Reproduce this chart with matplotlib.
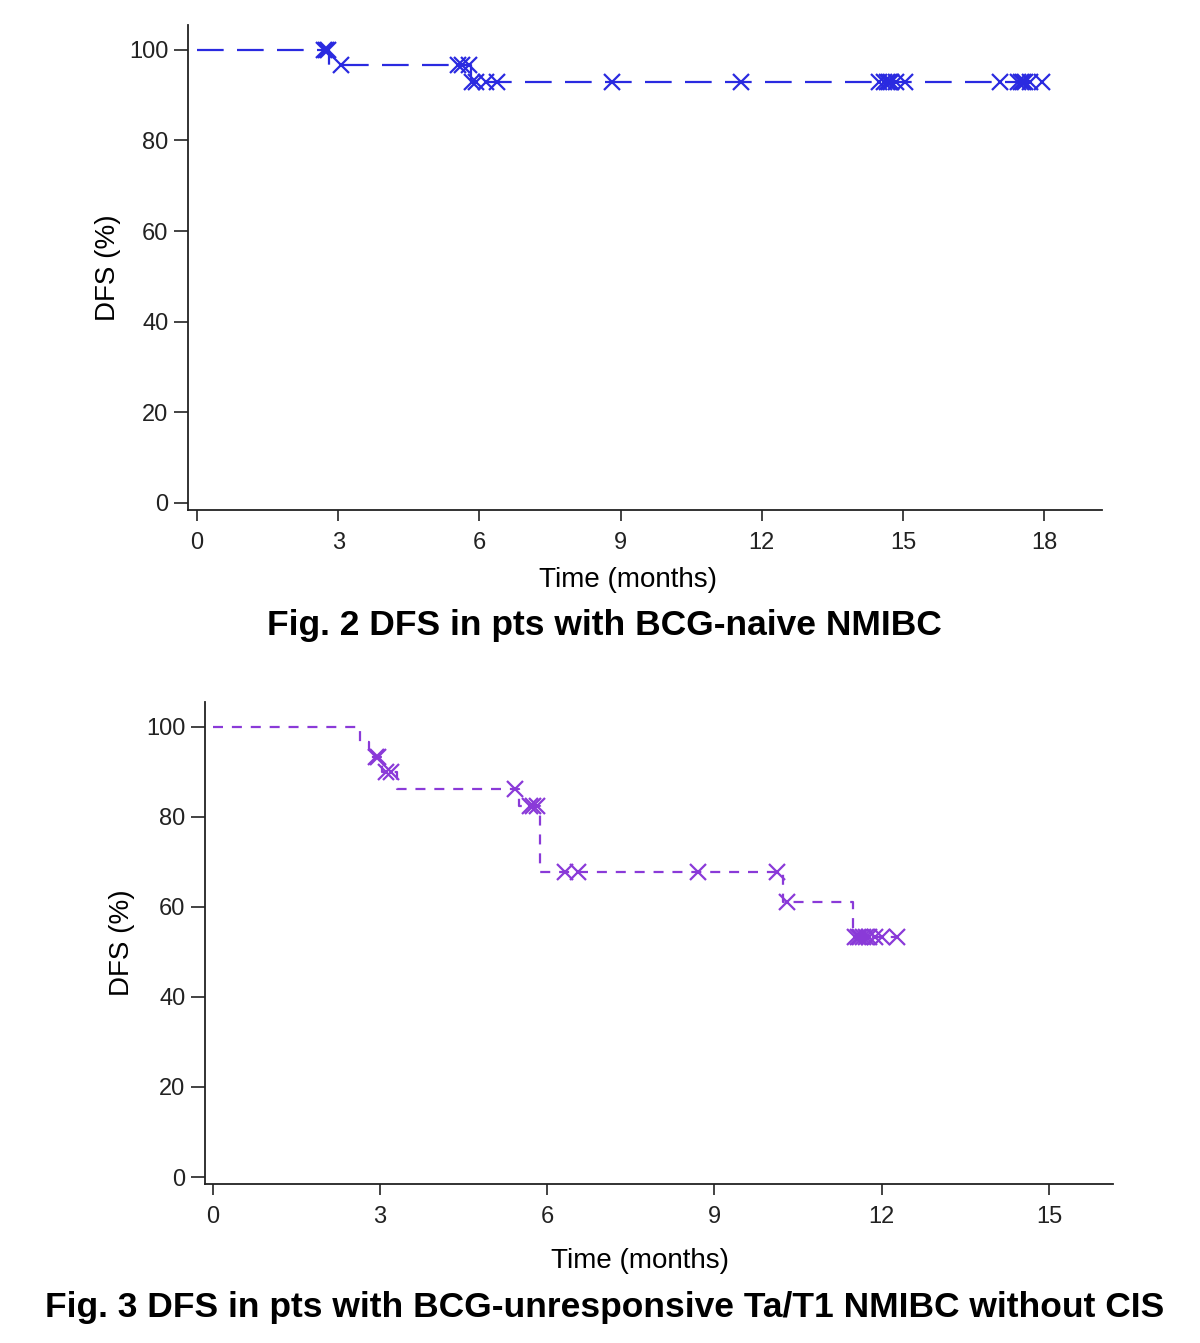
import matplotlib
matplotlib.use("Agg")
import matplotlib.pyplot as plt
import numpy as np

# Fig. 2 - BCG-naive NMIBC (Kaplan-Meier steps + censored times)
naive_step_t = [0, 2.8, 5.82, 17.96]
naive_step_s = [100, 96.7, 92.9, 92.9]
naive_cens_t = [2.7, 2.75, 2.78, 3.06, 5.55, 5.63, 5.78, 5.84, 5.93, 6.14, 6.37,
                8.82, 11.56, 14.5, 14.6, 14.65, 14.7, 14.75, 14.85, 15.04,
                17.06, 17.45, 17.5, 17.55, 17.6, 17.7, 17.96]

# Fig. 3 - BCG-unresponsive Ta/T1 NMIBC without CIS
unresp_step_t = [0, 2.65, 2.8, 3.03, 3.3, 5.5, 5.87, 10.23, 11.48, 12.27]
unresp_step_s = [100, 96.7, 93.3, 90.0, 86.2, 82.4, 67.8, 61.0, 53.3, 53.3]
unresp_cens_t = [2.93, 2.97, 3.1, 3.2, 5.42, 5.69, 5.75, 5.81, 6.32, 6.55, 8.7,
                 10.12, 10.3, 11.52, 11.57, 11.62, 11.67, 11.72, 11.77, 11.88,
                 12.0, 12.27]

plt.rcParams["font.family"] = ["Liberation Sans", "DejaVu Sans"]


def surv_at(t, step_t, step_s):
    idx = np.searchsorted(step_t, t, side="right") - 1
    return np.asarray(step_s)[idx]


def km_panel(ax, step_t, step_s, cens_t, color, dash, xticks, xlim, xpad, ypad, xlab_x):
    ax.step(step_t, step_s, where="post", color=color, lw=1.6, linestyle=dash)
    ax.plot(cens_t, surv_at(cens_t, step_t, step_s), linestyle="none",
            marker="x", markersize=11, mew=1.6, color=color)
    ax.set_xlim(*xlim)
    ax.set_ylim(-1.55, 105.5)
    ax.set_xticks(xticks)
    ax.set_yticks([0, 20, 40, 60, 80, 100])
    for s in ["top", "right"]:
        ax.spines[s].set_visible(False)
    for s in ["left", "bottom"]:
        ax.spines[s].set_linewidth(1.3)
        ax.spines[s].set_color("#222222")
    ax.tick_params(axis="y", length=10, width=1.2, labelsize=17, pad=4,
                   colors="#222222")
    ax.tick_params(axis="x", length=8, width=1.2, labelsize=17, pad=8,
                   colors="#222222")
    ax.set_ylabel("DFS (%)", fontsize=20, labelpad=ypad)
    ax.set_xlabel("Time (months)", fontsize=20, labelpad=xpad, x=xlab_x)


fig = plt.figure(figsize=(12, 13.43), dpi=100)

ax1 = fig.add_axes([0.1567, 0.6203, 0.7617, 0.3611])
km_panel(ax1, naive_step_t, naive_step_s, naive_cens_t, "#2a2ae0", (0, (12, 6)),
         [0, 3, 6, 9, 12, 15, 18], (-0.19, 19.23), 9, 6, 0.481)
fig.text(0.504, 1 - 625 / 1343, "Fig. 2 DFS in pts with BCG-naive NMIBC",
         fontsize=25.5, fontweight="bold", ha="center", va="center")

ax2 = fig.add_axes([0.1708, 0.1184, 0.7567, 0.3589])
km_panel(ax2, unresp_step_t, unresp_step_s, unresp_cens_t, "#8a3ad8", (0, (4.5, 4)),
         [0, 3, 6, 9, 12, 15], (-0.14, 16.15), 14, 8, 0.479)
fig.text(0.504, 1 - 1308 / 1343,
         "Fig. 3 DFS in pts with BCG-unresponsive Ta/T1 NMIBC without CIS",
         fontsize=25.5, fontweight="bold", ha="center", va="center")

fig.savefig("out.png", dpi=100)
